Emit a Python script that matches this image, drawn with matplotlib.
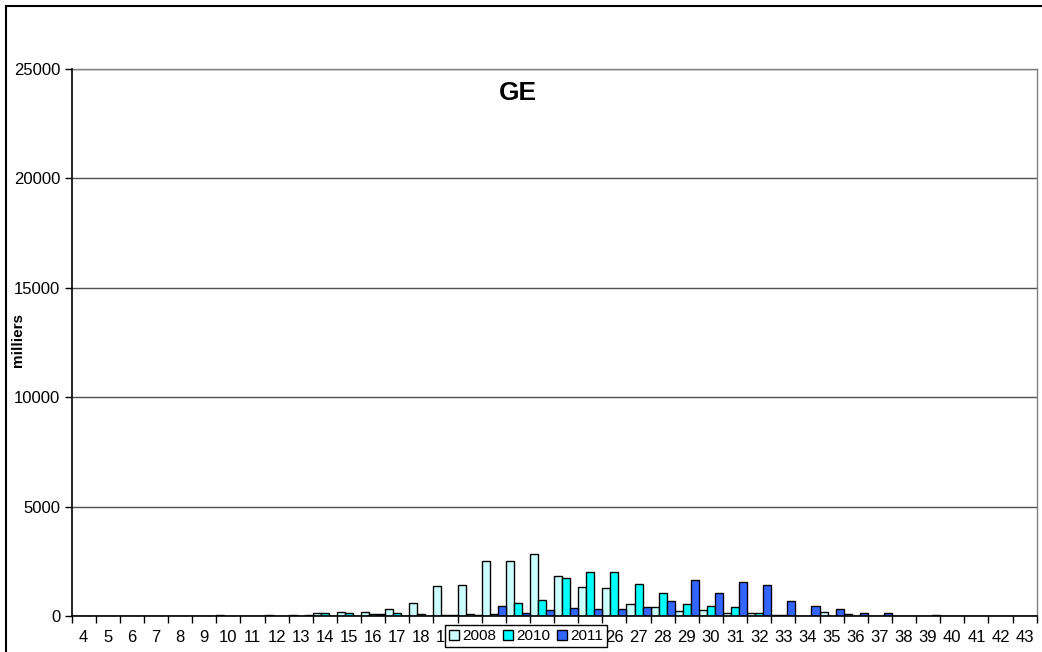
import matplotlib
matplotlib.use("Agg")
import matplotlib.pyplot as plt
import numpy as np
from matplotlib.patches import Rectangle
from matplotlib.ticker import FixedLocator, NullFormatter

plt.rcParams["font.family"] = ["Liberation Sans", "DejaVu Sans"]

weeks = list(range(4, 44))
series_names = ["2008", "2010", "2011"]
colors = ["#CCFFFF", "#00FFFF", "#3366FF"]

v2008 = [0, 0, 0, 0, 0, 0, 40, 0, 40, 40,
         150, 200, 200, 340, 610, 1370, 1400, 2500, 2500, 2820,
         1840, 1320, 1260, 565, 400, 230, 290, 155, 155, 40,
         0, 200, 80, 0, 0, 0, 0, 0, 0, 0]
v2010 = [0, 0, 0, 0, 0, 0, 0, 0, 0, 0,
         150, 150, 100, 150, 100, 30, 80, 80, 610, 720,
         1750, 2025, 2020, 1460, 1070, 550, 475, 400, 130, 40,
         0, 0, 0, 0, 0, 0, 0, 0, 0, 0]
v2011 = [0, 0, 0, 0, 0, 0, 0, 0, 0, 40,
         0, 20, 100, 0, 0, 30, 60, 460, 155, 260,
         350, 305, 320, 400, 700, 1660, 1070, 1570, 1415, 700,
         460, 340, 150, 150, 0, 50, 0, 0, 0, 0]

yticks = [0, 5000, 10000, 15000, 20000, 25000]

W, H = 1042, 652
fig = plt.figure(figsize=(W / 100, H / 100), dpi=100)
ax = fig.add_axes([71.5 / W, 36 / H, (1036.7 - 71.5) / W, (616 - 69) / H])

x = np.arange(len(weeks))
bw = 1 / 3
handles = []
for i, (vals, c, name) in enumerate(zip([v2008, v2010, v2011], colors, series_names)):
    b = ax.bar(x + (i - 1) * bw, vals, width=bw, color=c, edgecolor="black",
               linewidth=1.0, label=name, zorder=3)
    handles.append(b)

ax.set_xlim(-0.5, len(weeks) - 0.5)
ax.set_ylim(0, 25000)

# category labels at centres, tick marks on boundaries
ax.xaxis.set_major_locator(FixedLocator(np.arange(-0.5, len(weeks) + 0.5, 1)))
ax.xaxis.set_major_formatter(NullFormatter())
ax.set_xticks(x, minor=True)
ax.set_xticklabels([str(w) for w in weeks], minor=True)
ax.tick_params(axis="x", which="major", direction="out", length=5, width=1, color="black")
ax.tick_params(axis="x", which="minor", length=0, pad=10, labelsize=12)

ax.set_yticks(yticks)
ax.set_yticklabels([str(t) for t in yticks])
ax.tick_params(axis="y", direction="out", length=5, width=1, labelsize=12, pad=3)

ax.yaxis.grid(True, color="#505050", linewidth=1, zorder=0)
ax.set_axisbelow(True)

for s in ["top", "right"]:
    ax.spines[s].set_color("#808080")
    ax.spines[s].set_linewidth(1)
for s in ["left", "bottom"]:
    ax.spines[s].set_color("black")
    ax.spines[s].set_linewidth(1.2)
    ax.spines[s].set_zorder(4)

fig.text(518 / W, 1 - 92.5 / H, "GE", ha="center", va="center",
         fontsize=19, fontweight="bold")

fig.text(18 / W, 1 - 340 / H, "milliers", rotation=90, ha="center", va="center",
         fontsize=11, fontweight="bold")

leg = fig.legend(handles=handles, labels=series_names, loc="center",
                 bbox_to_anchor=(526 / W, 1 - 636 / H), ncol=3, frameon=True,
                 fancybox=False, framealpha=1, fontsize=11, handlelength=0.65,
                 handleheight=0.65, handletextpad=0.2, columnspacing=0.45,
                 borderpad=0.25, borderaxespad=0)
leg.get_frame().set_edgecolor("black")
leg.get_frame().set_linewidth(1)
leg.set_zorder(10)

# outer chart border
fig.patches.append(Rectangle((6 / W, -0.1), 1.2, 1 - 6 / H + 0.1,
                             transform=fig.transFigure, fill=False,
                             edgecolor="black", linewidth=1.5))

fig.savefig("out.png", dpi=100)
